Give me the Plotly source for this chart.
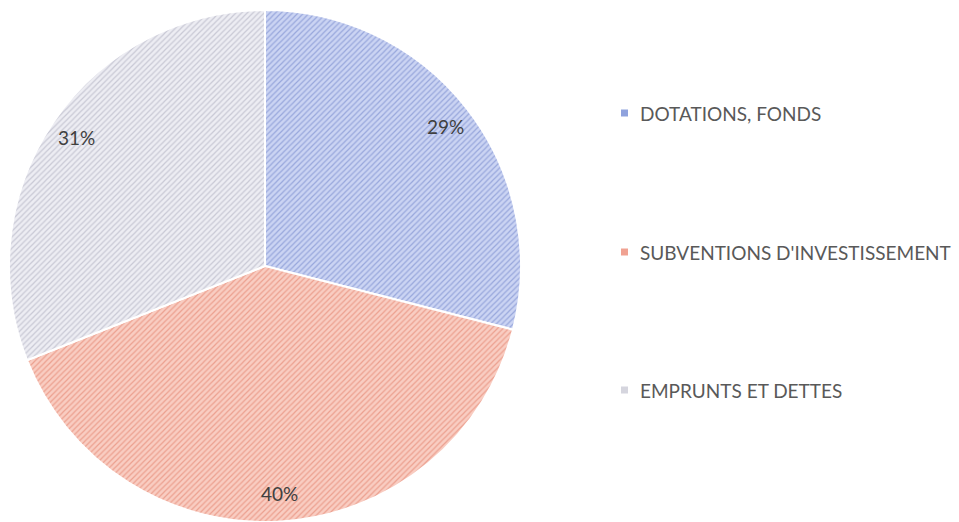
import math
import plotly.graph_objects as go

categories = ["DOTATIONS, FONDS", "SUBVENTIONS D'INVESTISSEMENT", "EMPRUNTS ET DETTES"]
values = [29, 40, 31]
bg_colors = ["#cbd4f3", "#f9cdc2", "#ededf3"]
fg_colors = ["#98a7dc", "#eca08f", "#c9c9d5"]
legend_colors = ["#8fa2dd", "#f0a292", "#d5d5de"]

W, H = 959, 522
CX, CY, R = 265, 266, 256  # pie centre / radius in pixels

fig = go.Figure()
fig.add_trace(go.Pie(
    labels=categories,
    values=values,
    sort=False,
    direction="clockwise",
    rotation=0,
    textinfo="none",
    marker=dict(
        colors=bg_colors,
        line=dict(color="white", width=2),
        pattern=dict(shape="/", fgcolor=fg_colors, bgcolor=bg_colors, size=4, solidity=0.3),
    ),
    domain=dict(x=[(CX - R) / W, (CX + R) / W],
                y=[max(0, (H - CY - R) / H), min(1, (H - CY + R) / H)]),
    showlegend=False,
    hoverinfo="label+percent",
))

# Percentage labels placed near the outer part of each slice
total = sum(values)
cum = 0
for v in values:
    mid = (cum + v / 2) / total * 2 * math.pi
    cum += v
    rl = 0.89 * R
    px = CX + rl * math.sin(mid)
    py = CY - rl * math.cos(mid)
    fig.add_annotation(text=f"{round(v / total * 100)}%", xref="paper", yref="paper",
                       x=px / W, y=1 - py / H, xanchor="center", yanchor="middle",
                       showarrow=False,
                       font=dict(family="Lato, Open Sans, sans-serif", size=19, color="#404040"))

# Custom legend (large vertical spacing as in reference)
legend_y = [113, 252, 390]
for i, lab in enumerate(categories):
    y = legend_y[i]
    fig.add_shape(type="rect", xref="paper", yref="paper",
                  x0=621 / W, x1=628 / W, y0=1 - (y + 3.5) / H, y1=1 - (y - 3.5) / H,
                  fillcolor=legend_colors[i], line=dict(width=0))
    fig.add_annotation(text=lab, xref="paper", yref="paper",
                       x=638 / W, y=1 - y / H, xanchor="left", yanchor="middle",
                       showarrow=False,
                       font=dict(family="Lato, Open Sans, sans-serif", size=19, color="#595959"))

fig.update_layout(
    width=W, height=H,
    margin=dict(l=0, r=0, t=0, b=0),
    paper_bgcolor="white", plot_bgcolor="white",
)
fig.write_html("out.html", config={"displayModeBar": False},
               post_script="document.body.style.margin='0';")
